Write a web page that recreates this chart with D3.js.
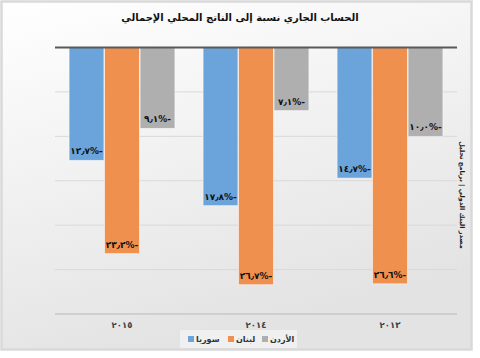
<!DOCTYPE html>
<html><head><meta charset="utf-8">
<script src="https://cdn.jsdelivr.net/npm/d3@7/dist/d3.min.js"></script>
<style>body{margin:0;background:#fff}svg{display:block}</style>
</head><body>
<svg id="c" width="480" height="358"></svg>
<script>
const categories = ["٢٠١٥","٢٠١٤","٢٠١٣"];
const seriesNames = ["سوريا","لبنان","الأردن"];
const syria = [-12.7, -17.8, -14.7];
const lebanon = [-23.2, -26.7, -26.6];
const jordan = [-9.1, -7.1, -10.0];
const labelsSyria = ["١٢٫٧%-","١٧٫٨%-","١٤٫٧%-"];
const labelsLebanon = ["٢٣٫٢%-","٢٦٫٧%-","٢٦٫٦%-"];
const labelsJordan = ["٩٫١%-","٧٫١%-","١٠٫٠%-"];
const gridTicks = [0,-5,-10,-15,-20,-25,-30];
const colors = ["#6aa4da","#f0904f","#afafaf"];
const title = "الحساب الجاري نسبة إلى الناتج المحلي الإجمالي";
const sideNote = "مصدر البنك الدولي | برنامج تحليل";

const series = [syria, lebanon, jordan];
const seriesLabels = [labelsSyria, labelsLebanon, labelsJordan];

const svg = d3.select("#c");
const defs = svg.append("defs");
const g = defs.append("linearGradient").attr("id","bg").attr("x1","0").attr("y1","0").attr("x2","0.35").attr("y2","1");
g.append("stop").attr("offset","0").attr("stop-color","#ffffff");
g.append("stop").attr("offset","1").attr("stop-color","#e3e3e3");

svg.append("rect").attr("x",1.5).attr("y",1.5).attr("width",470).attr("height",348)
  .attr("fill","url(#bg)").attr("stroke","#d9d9d9").attr("stroke-width",2.5);

const x0 = d3.scaleBand().domain(categories).range([55,457]).paddingInner(0.2).paddingOuter(0.1);
const x1 = d3.scaleBand().domain(seriesNames).range([0,x0.bandwidth()]).padding(0.02);
const y = d3.scaleLinear().domain([0,-30]).range([47.5,314]);

// gridlines
svg.append("g").selectAll("line").data(gridTicks.slice(1)).join("line")
  .attr("x1",55).attr("x2",457).attr("y1",d=>y(d)).attr("y2",d=>y(d))
  .attr("stroke","#d9d9d9").attr("stroke-width",1);

// bars
series.forEach((vals,si)=>{
  const grp = svg.append("g");
  grp.selectAll("rect").data(vals).join("rect")
    .attr("x",(d,i)=>x0(categories[i])+x1(seriesNames[si]))
    .attr("width",x1.bandwidth())
    .attr("y",y(0))
    .attr("height",d=>y(d)-y(0))
    .attr("fill",colors[si]).attr("stroke","#ffffff").attr("stroke-opacity",0.6).attr("stroke-width",0.8);
  grp.selectAll("text").data(vals).join("text")
    .attr("x",(d,i)=>x0(categories[i])+x1(seriesNames[si])+x1.bandwidth()/2)
    .attr("y",d=>y(d)-9)
    .attr("dy","0.35em")
    .attr("text-anchor","middle")
    .attr("font-family","DejaVu Sans")
    .attr("font-weight","bold")
    .attr("font-size",9)
    .attr("fill","#111")
    .text((d,i)=>"\u202D"+seriesLabels[si][i]+"\u202C");
});

// zero axis line
svg.append("line").attr("x1",55).attr("x2",457).attr("y1",y(0)).attr("y2",y(0))
  .attr("stroke","#595959").attr("stroke-width",2);
// bottom line
svg.append("line").attr("x1",55).attr("x2",457).attr("y1",y(-30)).attr("y2",y(-30))
  .attr("stroke","#bfbfbf").attr("stroke-width",1);

// category labels
svg.append("g").selectAll("text").data(categories).join("text")
  .attr("x",d=>x0(d)+x0.bandwidth()/2)
  .attr("y",325).attr("dy","0.35em").attr("text-anchor","middle")
  .attr("font-family","DejaVu Sans").attr("font-weight","bold").attr("font-size",8.5).attr("fill","#404040")
  .text(d=>d);

// title
svg.append("text").attr("x",240).attr("y",17).attr("dy","0.35em").attr("text-anchor","middle")
  .attr("font-family","DejaVu Sans").attr("font-weight","bold").attr("font-size",10).attr("fill","#111")
  .attr("direction","rtl").text(title);

// legend
const lg = svg.append("g");
lg.append("rect").attr("x",180).attr("y",330).attr("width",117).attr("height",18).attr("fill","#f2f2f2").attr("opacity",0.8);
const legX = [188,228,262];
seriesNames.forEach((n,i)=>{
  lg.append("rect").attr("x",legX[i]).attr("y",336).attr("width",6).attr("height",6).attr("fill",colors[i]);
  lg.append("text").attr("x",legX[i]+8).attr("y",339.5).attr("dy","0.35em").attr("text-anchor","start")
    .attr("font-family","DejaVu Sans").attr("font-weight","bold").attr("font-size",8).attr("fill","#333")
    .text(n);
});

// side note (vertical)
svg.append("text").attr("transform","translate(462,195) rotate(90)")
  .attr("text-anchor","middle").attr("dy","0.35em")
  .attr("font-family","DejaVu Sans").attr("font-weight","bold").attr("font-size",6.5).attr("fill","#1a1a1a")
  .attr("direction","rtl").text(sideNote);
</script>
</body></html>
